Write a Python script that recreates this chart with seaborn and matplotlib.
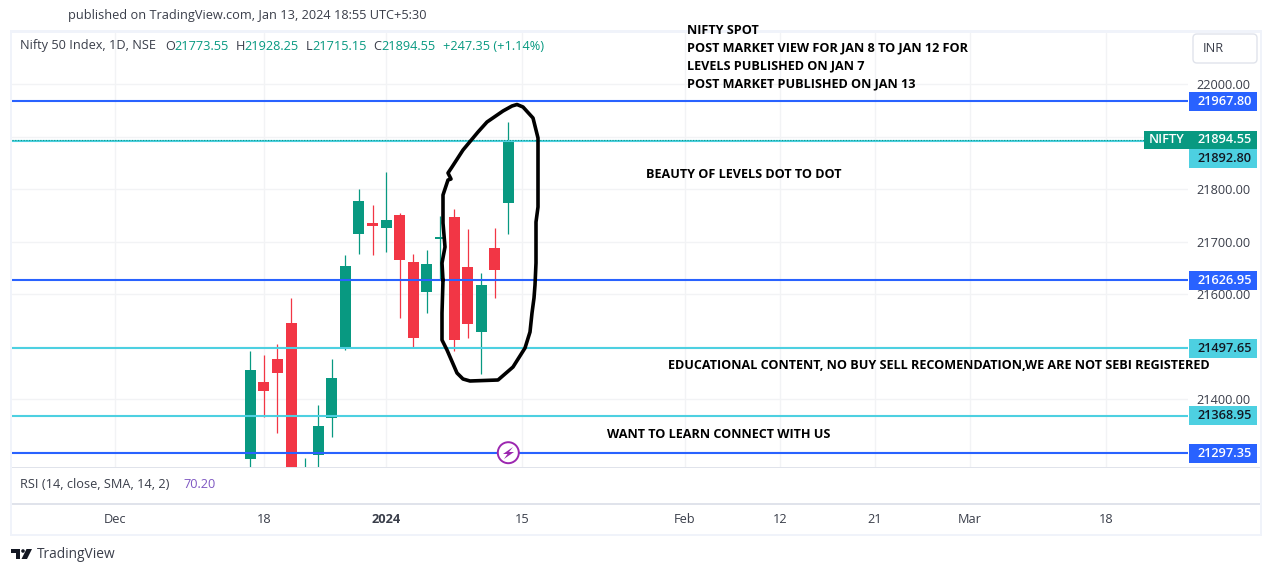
# plot.py
import numpy as np
import pandas as pd
import matplotlib
matplotlib.use('Agg')
import matplotlib.pyplot as plt
from matplotlib.patches import Rectangle, FancyBboxPatch, Circle, Polygon
from matplotlib.lines import Line2D
import seaborn as sns

# Daily candles, Dec 15 2023 to Jan 12 2024, one entry per trading day
bars = list(range(20))
opens = [21286, 21434, 21478, 21545, 21033, 21295, 21365, 21497, 21715, 21737,
         21727, 21751, 21661, 21605, 21705, 21747, 21653, 21529, 21688, 21773.55]
highs = [21493, 21484, 21505, 21593, 21288, 21390, 21477, 21675, 21801, 21770,
         21834, 21755, 21677, 21685, 21749, 21763, 21724, 21641, 21726, 21928.25]
lows = [21267, 21366, 21337, 21087, 20976, 21232, 21329, 21495, 21678, 21676,
        21680, 21555, 21500, 21564, 21629, 21492, 21517, 21448, 21593, 21715.15]
closes = [21457, 21417, 21451, 21150, 21255, 21349, 21441, 21654, 21778, 21731,
          21741, 21665, 21517, 21658, 21710, 21513, 21544, 21618, 21647, 21894.55]

# Horizontal levels
blue_levels = [21967.80, 21626.95, 21297.35]
cyan_levels = [21892.80, 21497.65, 21368.95]
last_price = 21894.55

# Axis ticks
time_ticks = [-10, 1, 10, 20, 32, 39, 46, 53, 63]
time_labels = ['Dec', '18', '2024', '15', 'Feb', '12', '21', 'Mar', '18']
price_grid = [21300, 21400, 21500, 21600, 21700, 21800, 21900, 22000]
price_labels = ['', '21400.00', '', '21600.00', '21700.00', '21800.00', '', '22000.00']

# Hand drawn loop around the last candles, in image pixels
loop_x = [443, 442, 445, 443, 443, 448, 451, 448, 452, 463, 478, 487, 503, 512, 517, 523, 533, 538, 538,
          536, 536, 535, 534, 532, 530, 525, 513, 498, 470, 463, 457, 447, 442, 442, 443]
loop_y = [280, 263, 247, 223, 195, 180, 179, 173, 167, 150, 132, 122, 111, 106, 104.5, 107, 118, 138, 207,
          222, 263, 285, 298, 313, 332, 348, 367, 380, 381, 379, 373, 350, 340, 313, 280]

GREEN = '#089981'
RED = '#F23645'
BLUE = '#2962FF'
CYAN = '#4DD0E1'
BORDER = '#E0E3EB'
TEXT = '#3a3e4a'
W, H = 1272, 574

sns.set_theme(style='white')
plt.rcParams['font.family'] = ['Open Sans', 'DejaVu Sans']

fig = plt.figure(figsize=(W / 100, H / 100), dpi=100)
fig.patch.set_facecolor('white')


def fx(x):
    return x / W


def fy(y):
    return 1 - y / H


def pane(x0, y0, x1, y1):
    return fig.add_axes([fx(x0), fy(y1), fx(x1) - fx(x0), fy(y0) - fy(y1)])


def txt(x, y, s, color=TEXT, size=9.2, **kw):
    fig.text(fx(x), fy(y), s, color=color, fontsize=size, va='center', **kw)


def box(x0, y0, x1, y1, color, zorder=5):
    fig.add_artist(Rectangle((fx(x0), fy(y1)), fx(x1) - fx(x0), fy(y0) - fy(y1),
                             transform=fig.transFigure, fc=color, ec='none', zorder=zorder))


xlim = (-17.55, 69.05)
ax = pane(12, 33, 1188, 467)
ax.set_xlim(*xlim)
ylim = (21271.4, 22098)

df = pd.DataFrame({'bar': bars, 'open': opens, 'high': highs, 'low': lows, 'close': closes})
df['up'] = df['close'] >= df['open']
df['bottom'] = df[['open', 'close']].min(axis=1)
df['size'] = (df['close'] - df['open']).abs()

# Candles
ax.vlines(df['bar'], df['low'], df['high'], colors=np.where(df['up'], GREEN, RED), lw=0.9, zorder=3)
for up, col in [(True, GREEN), (False, RED)]:
    sub = df[df['up'] == up]
    sns.barplot(data=sub, x='bar', y='size', bottom=sub['bottom'].values, native_scale=True,
                color=col, saturation=1, width=0.81, linewidth=0, errorbar=None, ax=ax, zorder=4)

# Levels
for v in blue_levels:
    ax.axhline(v, color=BLUE, lw=1.5, zorder=5)
for v in cyan_levels:
    ax.axhline(v, color=CYAN, lw=1.5, zorder=5)
ax.axhline(last_price, color=GREEN, lw=0.8, ls=(0, (1, 1.5)), zorder=6)

ax.set_xlim(*xlim)
ax.set_ylim(*ylim)
ax.set_xlabel('')
ax.set_ylabel('')
ax.set_xticks(time_ticks)
ax.set_xticklabels([])
ax.set_yticks(price_grid)
ax.set_yticklabels(price_labels, color=TEXT, fontsize=9.2)
ax.yaxis.tick_right()
ax.tick_params(axis='both', length=0)
ax.tick_params(axis='y', pad=6)
ax.grid(True, color='#F2F3F5', lw=1)
ax.set_axisbelow(True)
for s in ax.spines.values():
    s.set_visible(False)

# RSI and time panes
ax_rsi = pane(12, 467, 1260, 504)
ax_rsi.set_xticks([])
ax_rsi.set_yticks([])
for s in ax_rsi.spines.values():
    s.set_visible(False)

ax_time = pane(12, 504, 1188, 535)
ax_time.set_xlim(*xlim)
ax_time.set_xticks(time_ticks)
ax_time.set_xticklabels(time_labels, color=TEXT, fontsize=9.2)
ax_time.get_xticklabels()[2].set_fontweight('bold')
ax_time.tick_params(axis='x', length=0, pad=-15.5)
ax_time.set_yticks([])
for s in ax_time.spines.values():
    s.set_visible(False)

# Frame
for x0, y0, x1, y1 in [(10, 30, 1262, 33), (10, 534, 1262, 536), (10, 30, 12, 536), (1260, 30, 1262, 536)]:
    box(x0, y0, x1, y1, '#F0F3FA', zorder=2)
for y in [467, 504]:
    box(12, y - 0.5, 1260, y + 0.8, BORDER, zorder=2)


def level_y(v):
    return H - ax.transData.transform((0, v))[1]


# Price labels
for v in blue_levels:
    y = level_y(v)
    box(1189, y - 9.5, 1257, y + 9.5, BLUE)
    txt(1252, y, '%.2f' % v, color='white', ha='right', zorder=6, fontweight='semibold')
for v in cyan_levels:
    y = level_y(v) + (18 if v == cyan_levels[0] else 0)
    box(1189, y - 9.5, 1257, y + 9.5, CYAN)
    txt(1252, y, '%.2f' % v, color='#131722', ha='right', zorder=6, fontweight='semibold')
y = level_y(last_price)
fig.add_artist(FancyBboxPatch((fx(1144), fy(y + 9)), fx(113), 18 / H, transform=fig.transFigure,
                              boxstyle='square,pad=0', fc=GREEN, ec='none', zorder=5))
txt(1149, y, 'NIFTY', color='white', zorder=6, fontweight='semibold')
txt(1252, y, '%.2f' % last_price, color='white', ha='right', zorder=6, fontweight='semibold')

# INR box
fig.add_artist(FancyBboxPatch((1196, H - 60), 58, 23, boxstyle='round,pad=3,rounding_size=4',
                              transform=None, fc='white', ec=BORDER, lw=1, zorder=5))
txt(1203, 48, 'INR', zorder=6)

# Header and legend
txt(68, 16, 'published on TradingView.com, Jan 13, 2024 18:55 UTC+5:30')
txt(20, 46, 'Nifty 50 Index, 1D, NSE')
for xl, lab, xv, val in [(165, 'O', 174, '21773.55'), (236, 'H', 244, '21928.25'),
                         (306, 'L', 312, '21715.15'), (373, 'C', 381, '21894.55')]:
    txt(xl, 46, lab)
    txt(xv, 46, val, color=GREEN)
txt(443, 46, '+247.35 (+1.14%)', color=GREEN)
txt(20, 484, 'RSI (14, close, SMA, 14, 2)')
txt(183, 484, '70.20', color='#7E57C2')

# Freehand loop
fig.add_artist(Line2D([fx(x) for x in loop_x], [fy(y) for y in loop_y], transform=fig.transFigure,
                      color='black', lw=2.6, solid_joinstyle='round', zorder=7))

# Bold notes
notes = [(687, 30.5, 'NIFTY SPOT'),
         (687, 47.5, 'POST MARKET VIEW FOR JAN 8 TO JAN 12 FOR'),
         (687, 65.5, 'LEVELS PUBLISHED ON JAN 7'),
         (687, 83.5, 'POST MARKET PUBLISHED ON JAN 13'),
         (646, 174.5, 'BEAUTY OF LEVELS DOT TO DOT'),
         (668, 365.5, 'EDUCATIONAL CONTENT, NO BUY SELL RECOMENDATION,WE ARE NOT SEBI REGISTERED'),
         (607, 434.5, 'WANT TO LEARN CONNECT WITH US')]
for x, y, s in notes:
    txt(x, y, s, color='black', size=9.05, fontweight='bold', zorder=7)

# Flash icon on the bottom level
fig.add_artist(Circle((508.3, H - 452.7), 10.5, transform=None, fc='white', ec='#9C27B0', lw=1.4, zorder=7))
bolt_x = [513, 503, 507.5, 504, 514, 509]
bolt_y = [447, 454, 454, 459, 452, 452]
fig.add_artist(Polygon(list(zip([fx(x) for x in bolt_x], [fy(y) for y in bolt_y])), closed=True,
                       transform=fig.transFigure, fc='#9C27B0', ec='none', zorder=8))

# Footer logo
box(11, 549, 20, 552.5, '#131722')
box(15.5, 549, 20, 559, '#131722')
fig.add_artist(Circle((23, H - 551), 1.8, transform=None, fc='#131722', ec='none', zorder=5))
fig.add_artist(Polygon([(fx(x), fy(y)) for x, y in [(26.5, 549), (32, 549), (27, 559), (21.5, 559)]],
                       closed=True, transform=fig.transFigure, fc='#131722', ec='none', zorder=5))
txt(37, 555, 'TradingView', color='#3a3e4a', size=9.9)

fig.savefig('out.png', dpi=100)
